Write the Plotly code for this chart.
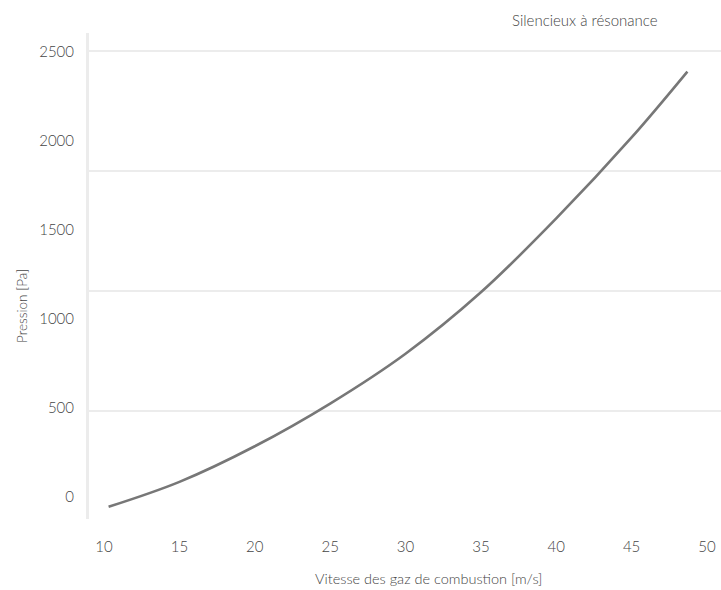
import plotly.graph_objects as go

# Data
vitesse = [10.3, 15, 20, 25, 30, 35, 40, 45, 48.7]
pression = [-55, 85, 285, 525, 805, 1150, 1565, 2020, 2390]

x_ticks = [10, 15, 20, 25, 30, 35, 40, 45, 50]
y_ticks = [0, 500, 1000, 1500, 2000, 2500]
grid_levels = [0, 1, 2, 3]

FONT = "Lato, 'Open Sans', sans-serif"
TXT = "#444444"

fig = go.Figure()
fig.add_trace(go.Scatter(
    x=vitesse, y=pression, mode="lines",
    line=dict(color="#777777", width=2.6, shape="spline", smoothing=1.0),
    showlegend=False, hoverinfo="skip"))
# invisible trace to activate the grid axis
fig.add_trace(go.Scatter(x=[None], y=[None], yaxis="y2", showlegend=False))

W, H = 721, 590
l, r, t, b = 89, 0, 33, 71

tick_font = dict(size=15, color=TXT, weight=300)

fig.update_layout(
    width=W, height=H,
    margin=dict(l=l, r=r, t=t, b=b),
    paper_bgcolor="white", plot_bgcolor="white",
    font=dict(family=FONT, color=TXT),
    xaxis=dict(range=[9.0, 50.93], tickvals=x_ticks, showgrid=False,
               zeroline=False, showline=False, ticks="outside", ticklen=14,
               tickcolor="rgba(0,0,0,0)", tickfont=tick_font),
    yaxis=dict(range=[-123.6, 2606.7], tickvals=y_ticks, showgrid=False,
               zeroline=False, showline=True, linecolor="#ececec", linewidth=3,
               ticks="outside", ticklen=9, tickcolor="rgba(0,0,0,0)",
               tickfont=tick_font),
    yaxis2=dict(range=[-0.9, 3.15], tickvals=grid_levels, overlaying="y",
                showgrid=True, gridcolor="#ececec", gridwidth=2,
                showticklabels=False, zeroline=False, showline=False),
    annotations=[
        dict(text="Vitesse des gaz de combustion [m/s]", x=428, y=578,
             xref="paper", yref="paper", showarrow=False,
             font=dict(size=14.5, color=TXT, weight=300)),
        dict(text="Pression [Pa]", x=22, y=306, xref="paper", yref="paper",
             showarrow=False, textangle=-90,
             font=dict(size=13.5, color=TXT, weight=300)),
        dict(text="Silencieux à résonance", x=585, y=20, xref="paper",
             yref="paper", showarrow=False,
             font=dict(size=15, color=TXT, weight=300)),
    ],
)

# convert annotation pixel positions to paper coords
pw, ph = W - l - r, H - t - b
for a in fig.layout.annotations:
    px, py = a.x, a.y
    a.x = (px - l) / pw
    a.y = (H - b - py) / ph
    a.xanchor = "center"
    a.yanchor = "middle"

fig.write_html(
    "out.html",
    config={"displayModeBar": False},
    post_script="document.body.style.margin='0';document.body.style.overflow='hidden';",
)
